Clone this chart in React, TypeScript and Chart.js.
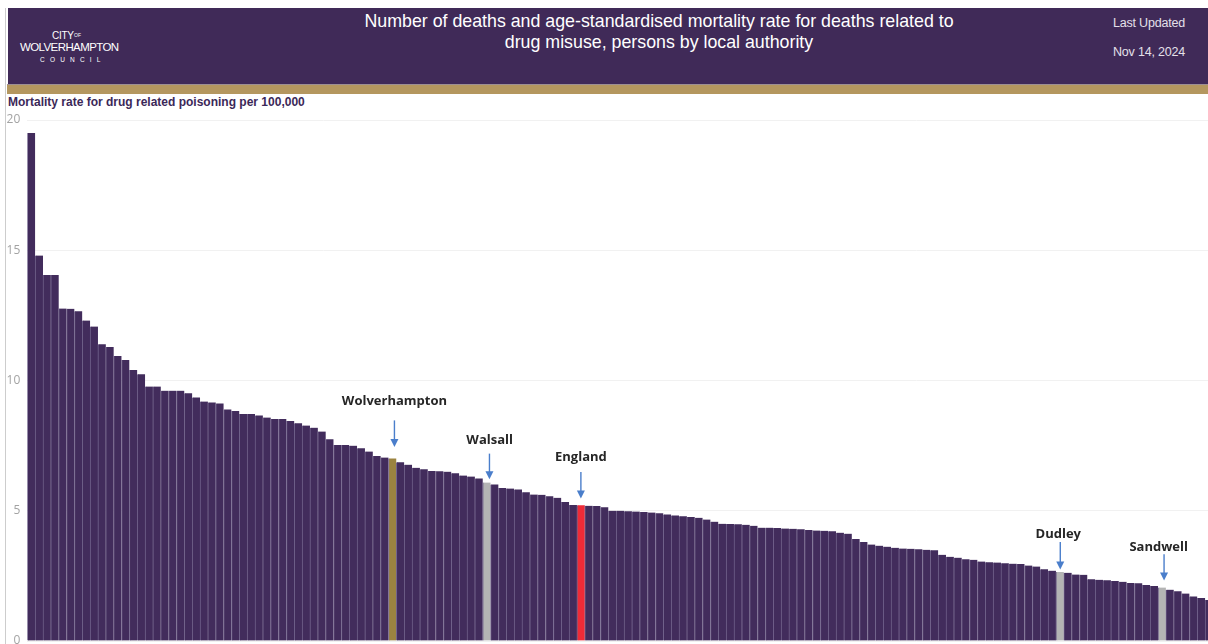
import React, { useEffect, useRef } from "react";
import { Chart, registerables } from "chart.js";

Chart.register(...registerables);

// Age-standardised mortality rate per 100,000 for drug related poisoning,
// local authorities ranked from highest to lowest.
const rates: number[] = [
  19.5, 14.8, 14.05, 14.05, 12.76, 12.75, 12.66, 12.3, 12.07, 11.39,
  11.29, 10.94, 10.79, 10.4, 10.24, 9.77, 9.77, 9.61, 9.61, 9.61,
  9.51, 9.35, 9.19, 9.16, 9.12, 8.89, 8.83, 8.71, 8.71, 8.66,
  8.58, 8.52, 8.52, 8.45, 8.36, 8.27, 8.19, 8.04, 7.74, 7.52,
  7.52, 7.5, 7.4, 7.27, 7.1, 7.04, 7.01, 6.86, 6.77, 6.65,
  6.59, 6.53, 6.52, 6.5, 6.44, 6.35, 6.31, 6.24, 6.08, 6.01,
  5.87, 5.85, 5.82, 5.71, 5.62, 5.61, 5.56, 5.5, 5.34, 5.22,
  5.21, 5.19, 5.18, 5.13, 5.0, 5.0, 4.98, 4.97, 4.95, 4.93,
  4.9, 4.86, 4.82, 4.79, 4.76, 4.73, 4.66, 4.58, 4.5, 4.49,
  4.48, 4.46, 4.42, 4.35, 4.35, 4.34, 4.32, 4.31, 4.29, 4.26,
  4.24, 4.23, 4.21, 4.16, 4.12, 3.92, 3.8, 3.7, 3.66, 3.62,
  3.58, 3.55, 3.54, 3.52, 3.5, 3.48, 3.31, 3.23, 3.2, 3.14,
  3.12, 3.05, 3.02, 3.01, 2.98, 2.97, 2.96, 2.9, 2.86, 2.75,
  2.7, 2.65, 2.62, 2.55, 2.54, 2.37, 2.35, 2.33, 2.3, 2.27,
  2.23, 2.22, 2.15, 2.11, 2.05, 1.97, 1.91, 1.82, 1.71, 1.65,
  1.57,
];

// Category axis: rank position of each authority
const ranks: string[] = rates.map((_, i) => String(i + 1));

// Areas called out on the chart and their position in the ranking (zero based)
const calloutNames: string[] = ["Wolverhampton", "Walsall", "England", "Dudley", "Sandwell"];
const calloutRanks: number[] = [46, 58, 70, 131, 144];

const yTicks: number[] = [0, 5, 10, 15, 20];

const BAR_FILL = "#422c5c";
const BAR_EDGE = "#70618a";
const ARROW = "#4a7ecb";

const calloutColours: Record<string, string> = {
  Wolverhampton: "#9b8340",
  Walsall: "#b4b4b4",
  England: "#ee2b37",
  Dudley: "#b4b4b4",
  Sandwell: "#b4b4b4",
};

// Hand placement of each arrow and caption above its bar (pixels)
const calloutLayout: Record<string, { dx: number; labelDx: number; tipGap: number; len: number; labelGap: number }> = {
  Wolverhampton: { dx: 2, labelDx: 2, tipGap: 11.5, len: 26.5, labelGap: 15 },
  Walsall: { dx: 2.8, labelDx: 3, tipGap: 3.3, len: 25.7, labelGap: 10 },
  England: { dx: 0, labelDx: 0, tipGap: 6.7, len: 26.6, labelGap: 11 },
  Dudley: { dx: 0.4, labelDx: -1.6, tipGap: 2.4, len: 27.6, labelGap: 4.4 },
  Sandwell: { dx: 2.1, labelDx: -3.3, tipGap: 7, len: 26.4, labelGap: 3.6 },
};

const calloutPlugin = {
  id: "callouts",
  afterDatasetsDraw(chart: any) {
    const meta = chart.getDatasetMeta(0);
    const ctx: CanvasRenderingContext2D = chart.ctx;
    ctx.save();
    calloutNames.forEach((name, k) => {
      const bar = meta.data[calloutRanks[k]];
      if (!bar) return;
      const lay = calloutLayout[name];
      const ax = bar.x + lay.dx;
      const tipY = bar.y - lay.tipGap;
      const topY = tipY - lay.len;
      ctx.strokeStyle = ARROW;
      ctx.lineWidth = 1.4;
      ctx.beginPath();
      ctx.moveTo(ax, topY);
      ctx.lineTo(ax, tipY - 6);
      ctx.stroke();
      ctx.fillStyle = ARROW;
      ctx.beginPath();
      ctx.moveTo(ax - 4, tipY - 8);
      ctx.lineTo(ax + 4, tipY - 8);
      ctx.lineTo(ax, tipY);
      ctx.closePath();
      ctx.fill();
      ctx.font = "bold 13px 'Open Sans'";
      ctx.fillStyle = "#262626";
      ctx.textAlign = "center";
      ctx.textBaseline = "alphabetic";
      ctx.fillText(name, bar.x + lay.labelDx, topY - lay.labelGap);
    });
    ctx.restore();
  },
};

function MortalityChart() {
  const canvasRef = useRef<HTMLCanvasElement | null>(null);

  useEffect(() => {
    if (!canvasRef.current) return;
    const colours = rates.map((_, i) => {
      const k = calloutRanks.indexOf(i);
      return k >= 0 ? calloutColours[calloutNames[k]] : BAR_FILL;
    });
    const chart = new Chart(canvasRef.current, {
      type: "bar",
      data: {
        labels: ranks,
        datasets: [
          {
            data: rates,
            backgroundColor: colours,
            borderColor: BAR_EDGE,
            borderWidth: { left: 1, right: 0, top: 0, bottom: 0 },
            borderSkipped: false,
            categoryPercentage: 1,
            barPercentage: 1,
          },
        ],
      },
      options: {
        animation: false,
        responsive: false,
        maintainAspectRatio: false,
        layout: { padding: { top: 20, bottom: 19, left: 0, right: 0 } },
        plugins: { legend: { display: false }, tooltip: { enabled: false }, title: { display: false } },
        scales: {
          x: { display: false, offset: true },
          y: {
            min: 0,
            max: 20,
            afterBuildTicks: (scale: any) => {
              scale.ticks = yTicks.map((v) => ({ value: v }));
            },
            afterFit: (scale: any) => {
              scale.width = 27.3;
            },
            border: { display: false },
            grid: { color: "#f1f1f1", drawTicks: false, lineWidth: 1 },
            ticks: {
              padding: 7,
              color: "#a3a3a3",
              font: { family: "'Open Sans'", size: 12 },
            },
          },
        },
      },
      plugins: [calloutPlugin],
    });
    return () => chart.destroy();
  }, []);

  return (
    <canvas
      ref={canvasRef}
      width={1213}
      height={560}
      style={{ position: "absolute", left: 0, top: 100, width: 1213, height: 560 }}
    />
  );
}

export default function App() {
  const white = "#ffffff";
  return (
    <div
      style={{
        position: "fixed",
        left: 0,
        top: 0,
        width: 1208,
        height: 644,
        overflow: "hidden",
        background: white,
        fontFamily: "'Liberation Sans', Arial, sans-serif",
      }}
    >
      <div style={{ position: "absolute", left: 5, top: 8, width: 1, height: 636, background: "#cdcdcd" }} />
      <div style={{ position: "absolute", left: 8, top: 8, width: 1200, height: 76, background: "#402a58" }} />
      <div style={{ position: "absolute", left: 7, top: 84, width: 1201, height: 1, background: "#9d8f93" }} />
      <div style={{ position: "absolute", left: 7, top: 85, width: 1201, height: 9, background: "#b4975f" }} />

      {/* council logo */}
      <div style={{ position: "absolute", left: 52, top: 30, color: white, fontSize: 10, letterSpacing: -0.3 }}>CITY</div>
      <div style={{ position: "absolute", left: 74, top: 32, color: white, fontSize: 5 }}>OF</div>
      <div style={{ position: "absolute", left: 20, top: 41, color: white, fontSize: 11.5, letterSpacing: -0.6 }}>
        WOLVERHAMPTON
      </div>
      <div style={{ position: "absolute", left: 40, top: 56, color: white, fontSize: 6.5, letterSpacing: 5.2 }}>
        COUNCIL
      </div>

      {/* title */}
      <div
        style={{
          position: "absolute",
          left: 300,
          top: 11,
          width: 718,
          textAlign: "center",
          color: white,
          fontSize: 17.8,
          lineHeight: "21px",
        }}
      >
        Number of deaths and age-standardised mortality rate for deaths related to
        <br />
        drug misuse, persons by local authority
      </div>

      <div style={{ position: "absolute", left: 1113, top: 16, color: "#e4e0ea", fontSize: 12.5, letterSpacing: -0.2 }}>
        Last Updated
      </div>
      <div style={{ position: "absolute", left: 1113, top: 45, color: "#e4e0ea", fontSize: 12.5, letterSpacing: -0.2 }}>
        Nov 14, 2024
      </div>

      <div
        style={{
          position: "absolute",
          left: 8,
          top: 95,
          color: "#3b2858",
          fontSize: 12,
          fontWeight: "bold",
          whiteSpace: "nowrap",
        }}
      >
        Mortality rate for drug related poisoning per 100,000
      </div>

      <MortalityChart />
    </div>
  );
}
